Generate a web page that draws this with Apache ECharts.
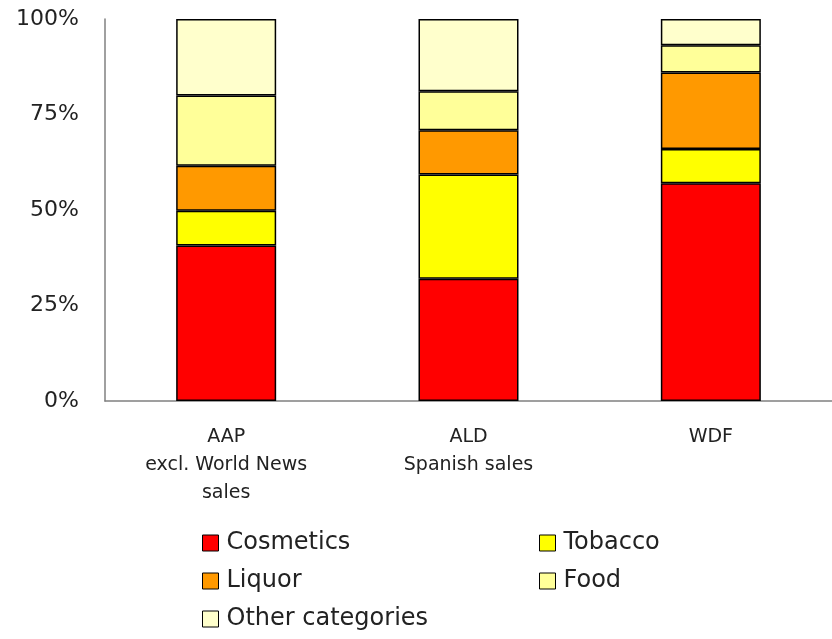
<!DOCTYPE html>
<html>
<head>
<meta charset="utf-8">
<script src="https://cdn.jsdelivr.net/npm/echarts@6/dist/echarts.min.js"></script>
<style>
  html, body { margin: 0; padding: 0; background: #fff; }
  #chart { width: 832px; height: 639px; }
</style>
</head>
<body>
<div id="chart"></div>
<script>
// data (percent share of sales)
var categories = ['AAP\nexcl. World News\nsales', 'ALD\nSpanish sales', 'WDF'];
var cosmetics = [40.7, 32.0, 57.0];
var tobacco   = [9.1, 27.3, 9.0];
var liquor    = [11.8, 11.6, 20.0];
var food      = [18.4, 10.2, 7.1];
var other     = [20.0, 18.9, 6.9];
var yTicks = [0, 25, 50, 75, 100];

var fontName = 'DejaVu Sans';

function barSeries(name, values, color) {
    return {
        name: name,
        type: 'bar',
        stack: 'total',
        barWidth: 100,
        data: values,
        itemStyle: { color: color, borderColor: '#000', borderWidth: 1.5 }
    };
}

var legendBase = {
    orient: 'vertical', top: 526, height: 120, itemGap: 14,
    itemWidth: 16, itemHeight: 16, icon: 'rect',
    itemStyle: { borderColor: '#000', borderWidth: 1 },
    textStyle: { fontSize: 24, color: '#222', fontFamily: fontName, padding: [0, 0, 0, 3] }
};

var chart = echarts.init(document.getElementById('chart'));
chart.setOption({
    animation: false,
    textStyle: { fontFamily: fontName },
    grid: { left: 105, top: 19, width: 738, height: 382 },
    xAxis: {
        type: 'category',
        data: categories,
        axisLine: { lineStyle: { color: '#808080', width: 1.5 } },
        axisTick: { show: false },
        axisLabel: { color: '#222', fontSize: 19, lineHeight: 28, margin: 22, fontFamily: fontName }
    },
    yAxis: {
        type: 'value',
        min: yTicks[0],
        max: yTicks[yTicks.length - 1],
        interval: 25,
        splitLine: { show: false },
        axisLine: { show: true, lineStyle: { color: '#808080', width: 1.5 } },
        axisTick: { show: false },
        axisLabel: { color: '#222', fontSize: 22, margin: 26, formatter: '{value}%', fontFamily: fontName }
    },
    legend: [
        Object.assign({}, legendBase, { left: 197, data: ['Cosmetics', 'Liquor', 'Other categories'] }),
        Object.assign({}, legendBase, { left: 534, data: ['Tobacco', 'Food'] })
    ],
    series: [
        barSeries('Cosmetics', cosmetics, '#FF0000'),
        barSeries('Tobacco', tobacco, '#FFFF00'),
        barSeries('Liquor', liquor, '#FF9900'),
        barSeries('Food', food, '#FFFF99'),
        barSeries('Other categories', other, '#FFFFCC')
    ]
});
</script>
</body>
</html>
